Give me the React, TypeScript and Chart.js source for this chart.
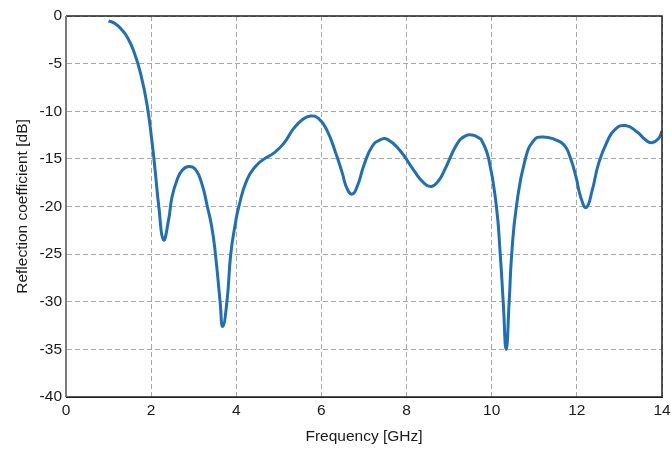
import React, { useEffect, useRef } from "react";
import { Chart, registerables } from "chart.js";

Chart.register(...registerables);

const frequencyGHz = [
  1.0, 1.15, 1.3, 1.45, 1.6, 1.75, 1.9, 2.02, 2.1, 2.18, 2.29, 2.41, 2.49, 2.61, 2.73, 2.88, 3.04, 3.19, 3.32, 3.43,
  3.51, 3.62, 3.68, 3.78, 3.87, 3.97, 4.06, 4.25, 4.45, 4.64, 4.88, 5.11, 5.35, 5.55, 5.74, 5.93, 6.13, 6.33, 6.49,
  6.6, 6.72, 6.84, 7.0, 7.19, 7.38, 7.55, 7.84, 8.17, 8.4, 8.58, 8.75, 8.9, 9.19, 9.38, 9.54, 9.7, 9.77, 9.93, 10.11,
  10.2, 10.27, 10.34, 10.41, 10.47, 10.58, 10.79, 11.0, 11.2, 11.47, 11.7, 11.84, 11.98, 12.09, 12.22, 12.36, 12.51,
  12.71, 12.9, 13.14, 13.41, 13.61, 13.76, 13.92, 14.0,
];
const reflectionDb = [
  -0.5, -0.8, -1.4, -2.3, -3.8, -6.0, -9.2, -13.2, -16.5, -20.0, -23.5, -21.4, -19.0, -17.2, -16.2, -15.8, -16.1,
  -17.6, -20.0, -22.3, -25.0, -30.0, -32.6, -30.0, -25.0, -22.0, -20.0, -17.2, -15.8, -15.05, -14.4, -13.4, -11.8,
  -10.9, -10.5, -10.75, -12.0, -14.3, -16.5, -18.1, -18.7, -17.9, -15.65, -13.7, -13.0, -12.95, -14.1, -16.2, -17.5,
  -17.9, -17.3, -16.1, -13.4, -12.6, -12.5, -12.8, -13.1, -15.0, -20.0, -25.0, -30.0, -35.0, -30.0, -25.0, -20.0,
  -15.0, -13.0, -12.7, -12.95, -13.55, -14.8, -16.9, -19.0, -20.1, -18.3, -15.5, -13.2, -11.9, -11.5, -12.15, -13.0,
  -13.3, -12.85, -12.1,
];
const xTicks = [0, 2, 4, 6, 8, 10, 12, 14];
const yTicks = [0, -5, -10, -15, -20, -25, -30, -35, -40];

const FONT = "'Liberation Sans', Arial, sans-serif";

export default function App() {
  const ref = useRef<HTMLCanvasElement | null>(null);

  useEffect(() => {
    document.body.style.margin = "0";
    const canvas = ref.current;
    if (!canvas) return;

    const framePlugin = {
      id: "frame",
      afterDatasetsDraw(chart: any) {
        const { ctx, chartArea } = chart;
        const { left, right, top, bottom } = chartArea;
        ctx.save();
        ctx.setLineDash([]);
        ctx.lineWidth = 1.5;
        ctx.strokeStyle = "#222222";
        ctx.beginPath();
        ctx.moveTo(left, top);
        ctx.lineTo(right, top);
        ctx.lineTo(right, bottom);
        ctx.lineTo(left, bottom);
        ctx.stroke();
        ctx.lineWidth = 2;
        ctx.strokeStyle = "#7a7a7a";
        ctx.beginPath();
        ctx.moveTo(left, top);
        ctx.lineTo(left, bottom);
        ctx.stroke();
        ctx.restore();
      },
    };

    const chart = new Chart(canvas, {
      type: "line",
      data: {
        datasets: [
          {
            data: frequencyGHz.map((f, i) => ({ x: f, y: reflectionDb[i] })),
            borderColor: "#1f6fb6",
            borderWidth: 3,
            pointRadius: 0,
            tension: 0.5,
            fill: false,
          },
        ],
      },
      options: {
        animation: false,
        responsive: false,
        maintainAspectRatio: false,
        layout: { padding: { left: 0, top: 16, right: 9, bottom: 0 } },
        plugins: { legend: { display: false }, tooltip: { enabled: false } },
        scales: {
          x: {
            type: "linear",
            min: 0,
            max: 14,
            afterBuildTicks: (scale: any) => {
              scale.ticks = xTicks.map((v) => ({ value: v }));
            },
            afterFit: (scale: any) => {
              scale.height = 52;
              scale.paddingLeft = 0;
              scale.paddingRight = 0;
            },
            ticks: {
              color: "#1a1a1a",
              font: { family: FONT, size: 15.5 },
              padding: 4,
              maxRotation: 0,
              autoSkip: false,
            },
            grid: { color: "#a8a8a8", lineWidth: 1, drawTicks: false },
            border: { display: true, color: "#222222", dash: [5, 3] },
            title: {
              display: true,
              text: "Frequency [GHz]",
              color: "#1a1a1a",
              font: { family: FONT, size: 15.5 },
              padding: { top: 0, bottom: 3 },
            },
          },
          y: {
            type: "linear",
            min: -40,
            max: 0,
            afterBuildTicks: (scale: any) => {
              scale.ticks = yTicks.map((v) => ({ value: v }));
            },
            afterFit: (scale: any) => {
              scale.width = 66;
              scale.paddingTop = 0;
              scale.paddingBottom = 0;
            },
            ticks: {
              color: "#1a1a1a",
              font: { family: FONT, size: 15.5 },
              padding: 4,
              autoSkip: false,
            },
            grid: { color: "#a8a8a8", lineWidth: 1, drawTicks: false },
            border: { display: true, color: "#222222", dash: [5, 3] },
            title: {
              display: true,
              text: "Reflection coefficient [dB]",
              color: "#1a1a1a",
              font: { family: FONT, size: 15.5 },
              padding: { top: 13, bottom: 0 },
            },
          },
        },
      },
      plugins: [framePlugin],
    } as any);

    return () => chart.destroy();
  }, []);

  return (
    <div style={{ position: "fixed", left: 0, top: 0, width: 671, height: 449, background: "#ffffff" }}>
      <canvas ref={ref} width={671} height={449} style={{ display: "block", width: 671, height: 449 }} />
    </div>
  );
}
